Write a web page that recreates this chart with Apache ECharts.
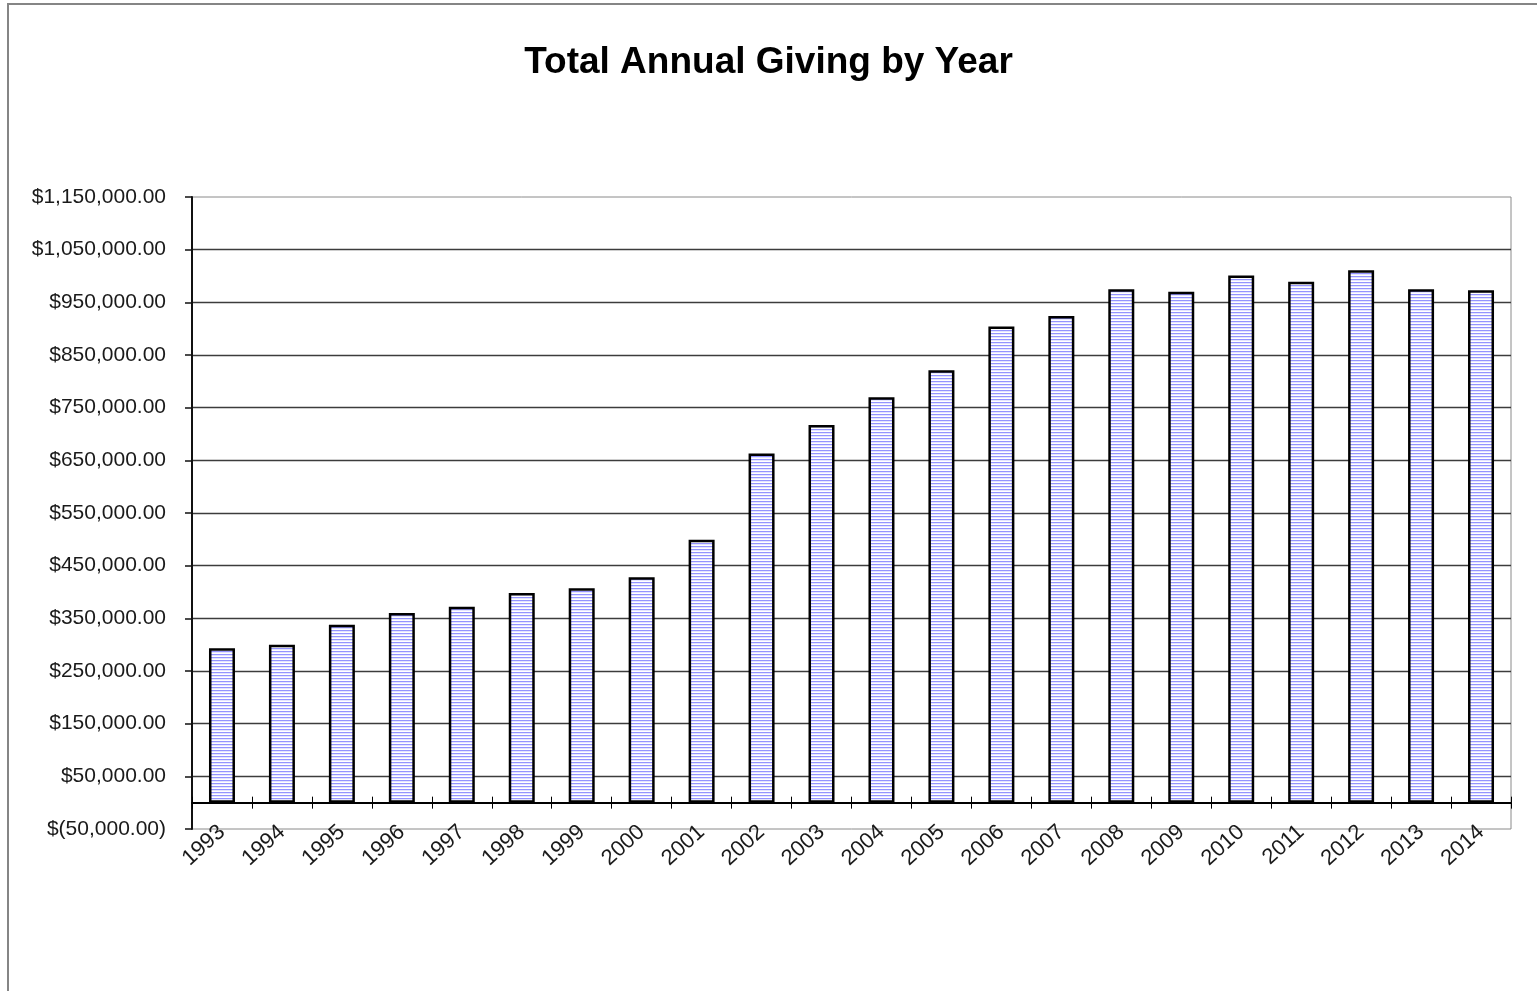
<!DOCTYPE html>
<html>
<head>
<meta charset="utf-8">
<script src="https://cdn.jsdelivr.net/npm/echarts@6/dist/echarts.min.js"></script>
<style>
html,body{margin:0;padding:0;background:#fff;}
#chart{width:1537px;height:991px;}
</style>
</head>
<body>
<div id="chart"></div>
<script>
const titleText = 'Total Annual Giving by Year';
const years = ['1993','1994','1995','1996','1997','1998','1999','2000','2001','2002','2003','2004','2005','2006','2007','2008','2009','2010','2011','2012','2013','2014'];
const giving = [293000,300000,338000,360000,372000,398000,407000,428000,499000,663000,717000,770000,821000,904000,924000,975000,970000,1001000,989000,1011000,975000,973000];
const yMin = -50000, yMax = 1150000, yStep = 100000;

function money(v){
  const s = Math.abs(v).toLocaleString('en-US',{minimumFractionDigits:2, maximumFractionDigits:2});
  return v < 0 ? '$(' + s + ')' : '$' + s;
}

// horizontal stripe pattern
const pc = document.createElement('canvas');
pc.width = 4; pc.height = 3;
const ctx = pc.getContext('2d');
ctx.fillStyle = '#ffffff'; ctx.fillRect(0,0,4,3);
ctx.fillStyle = '#9494ff'; ctx.fillRect(0,0,4,1);
ctx.fillStyle = '#e4e4ff'; ctx.fillRect(0,1,4,1);

const gridTop = 197, gridBottom = 162, chartH = 991;
const plotH = chartH - gridTop - gridBottom;
const zeroOffset = -plotH * (yMax - 0) / (yMax - yMin);

const font = 'Liberation Sans, Arial, sans-serif';
const chart = echarts.init(document.getElementById('chart'), null, {renderer:'canvas'});
chart.setOption({
  animation:false,
  backgroundColor:'#fff',
  title:{
    text:titleText, left:'center', top:39,
    textStyle:{fontFamily:font, fontSize:37, fontWeight:'bold', color:'#000'}
  },
  graphic:[{
    type:'rect', shape:{x:8,y:4,width:1620,height:1100},
    style:{fill:'none', stroke:'#858585', lineWidth:2}, silent:true
  }],
  grid:{left:192, right:26, top:gridTop, bottom:gridBottom, show:true, borderColor:'#8a8a8a', borderWidth:1, backgroundColor:'transparent'},
  xAxis:[{
    type:'category', data:years, position:'bottom',
    axisLine:{onZero:true, lineStyle:{color:'#000', width:2}},
    axisTick:{show:true, length:6, lineStyle:{color:'#000', width:1}},
    axisLabel:{rotate:42, margin:0, fontFamily:font, fontSize:22, color:'#1a1a1a', interval:0}
  },{
    type:'category', data:years, position:'top', offset:zeroOffset,
    axisLine:{show:false, onZero:false},
    axisTick:{show:true, length:6, lineStyle:{color:'#000', width:1}},
    axisLabel:{show:false}
  }],
  yAxis:{
    type:'value', min:yMin, max:yMax, interval:yStep,
    axisLine:{show:true, lineStyle:{color:'#111', width:2}},
    axisTick:{show:true, length:7, lineStyle:{color:'#111', width:1.5}},
    axisLabel:{formatter:money, margin:26, fontFamily:font, fontSize:21, color:'#1a1a1a'},
    splitLine:{show:true, showMinLine:false, showMaxLine:false, lineStyle:{color:'#3c3c3c', width:1.4}}
  },
  series:[{
    type:'bar', data:giving, barWidth:26, xAxisIndex:0,
    itemStyle:{color:{image:pc, repeat:'repeat'}, borderColor:'#000', borderWidth:2.5}
  }]
});
</script>
</body>
</html>
